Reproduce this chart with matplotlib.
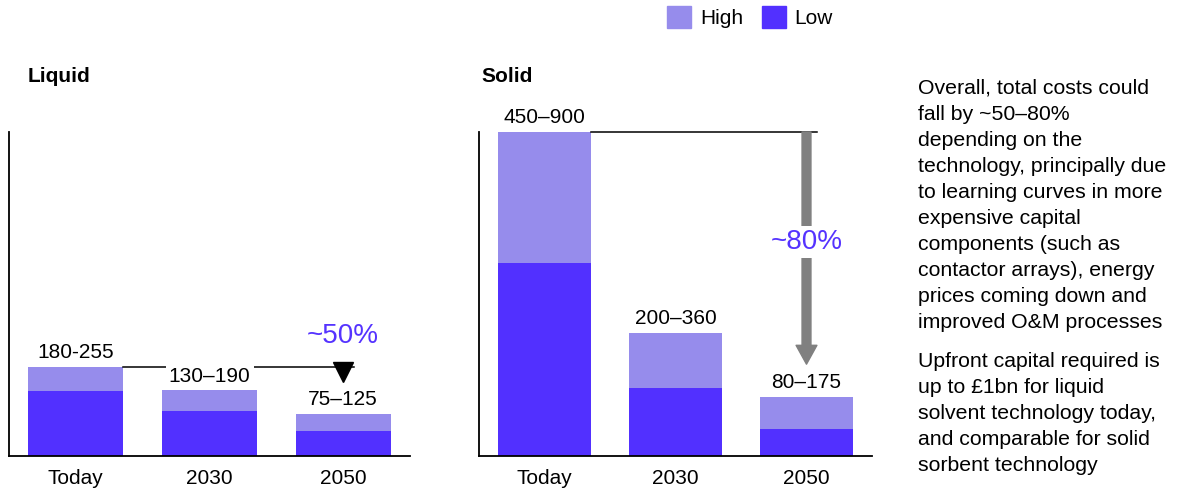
"""Cost outlook for liquid and solid DAC technologies."""

import matplotlib.pyplot as plt
import matplotlib.transforms as mtransforms
from matplotlib.patches import FancyArrowPatch, Patch

plt.rcParams.update(
    {
        "font.family": ["Liberation Sans", "DejaVu Sans"],
        "font.size": 15,
        "axes.spines.top": False,
        "axes.spines.right": False,
        "axes.linewidth": 1.3,
    }
)

HIGH = "#968cec"
LOW = "#5230ff"
ACCENT = "#5533ff"
GREY = "#808080"

categories = ["Today", "2030", "2050"]

# bar heights as drawn (low part, and top of high part)
liquid_low = [180, 125, 70]
liquid_high = [248, 182, 117]
liquid_labels = ["180-255", "130\u2013190", "75\u2013125"]

solid_low = [535, 190, 75]
solid_high = [900, 342, 163]
solid_labels = ["450\u2013900", "200\u2013360", "80\u2013175"]

liquid_drop = "~50%"
solid_drop = "~80%"

note_1 = (
    "Overall, total costs could\n"
    "fall by ~50\u201380%\n"
    "depending on the\n"
    "technology, principally due\n"
    "to learning curves in more\n"
    "expensive capital\n"
    "components (such as\n"
    "contactor arrays), energy\n"
    "prices coming down and\n"
    "improved O&M processes"
)
note_2 = (
    "Upfront capital required is\n"
    "up to \u00a31bn for liquid\n"
    "solvent technology today,\n"
    "and comparable for solid\n"
    "sorbent technology"
)

W, H = 1182, 490
BAR_W = 0.71


def px_axes(fig, left, right, top, bottom):
    return fig.add_axes([left / W, 1 - bottom / H, (right - left) / W, (bottom - top) / H])


def draw_panel(ax, low, high, labels):
    x = list(range(len(categories)))
    ax.bar(x, low, width=BAR_W, color=LOW, zorder=2)
    ax.bar(x, [h - l for h, l in zip(high, low)], bottom=low, width=BAR_W, color=HIGH, zorder=2)
    for xi, hi, lab in zip(x, high, labels):
        ax.annotate(
            lab, (xi, hi), xytext=(0, 3.5), textcoords="offset points",
            ha="center", va="bottom", fontsize=15, zorder=5,
            bbox=dict(boxstyle="square,pad=0.15", fc="white", ec="none"),
        )
    ax.set_xlim(-0.5, 2.5)
    ax.set_ylim(0, 900)
    ax.set_yticks([])
    ax.set_xticks(x)
    ax.set_xticklabels(categories)
    ax.tick_params(axis="x", length=0, pad=9, labelsize=15)


fig = plt.figure(figsize=(W / 100, H / 100), dpi=100)

ax_l = px_axes(fig, 9, 410, 132, 456)
ax_s = px_axes(fig, 479, 872, 132, 456)
draw_panel(ax_l, liquid_low, liquid_high, liquid_labels)
draw_panel(ax_s, solid_low, solid_high, solid_labels)

# liquid: reference line and small marker
ax_l.plot([BAR_W / 2, 2.08], [liquid_high[0]] * 2, color="black", lw=1.1, zorder=3)
shift = mtransforms.offset_copy(ax_l.transData, fig=fig, x=0, y=-5, units="dots")
ax_l.plot([2], [liquid_high[0]], marker="v", ms=15, color="black", transform=shift,
          zorder=4, clip_on=False)
ax_l.text(2, 333, liquid_drop, color=ACCENT, fontsize=20, ha="center", va="center")

# solid: reference line and big grey arrow
ax_s.plot([BAR_W / 2, 2.08], [solid_high[0]] * 2, color="black", lw=1.1, zorder=3,
          clip_on=False)
ax_s.add_patch(
    FancyArrowPatch(
        (2, solid_high[0]), (2, 255),
        arrowstyle="simple,head_length=0.68,head_width=0.75,tail_width=0.32",
        mutation_scale=20, color=GREY, shrinkA=0, shrinkB=0, zorder=3, clip_on=False,
    )
)
ax_s.text(2, 595, solid_drop, color=ACCENT, fontsize=20, ha="center", va="center", zorder=4,
          bbox=dict(boxstyle="square,pad=0.1", fc="white", ec="none"))

fig.text(28 / W, 1 - 76 / H, "Liquid", fontsize=15, fontweight="bold", va="center")
fig.text(481 / W, 1 - 76 / H, "Solid", fontsize=15, fontweight="bold", va="center")

fig.text(918 / W, 1 - 79 / H, note_1, fontsize=15.3, va="top", linespacing=1.47)
fig.text(918 / W, 1 - 352 / H, note_2, fontsize=15.3, va="top", linespacing=1.47)

handles = [Patch(color=HIGH, label="High"), Patch(color=LOW, label="Low")]
fig.legend(
    handles=handles, loc="upper left", bbox_to_anchor=(667 / W, 1 - 6 / H), ncol=2,
    frameon=False, fontsize=15, handlelength=1.15, handleheight=1.25,
    handletextpad=0.43, columnspacing=0.9, borderpad=0, borderaxespad=0,
)

fig.savefig("out.png", dpi=100)
